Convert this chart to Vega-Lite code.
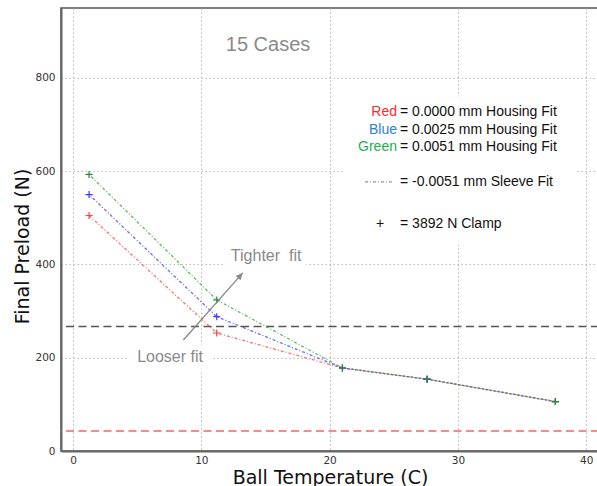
{
  "$schema": "https://vega.github.io/schema/vega-lite/v6.json",
  "width": 538,
  "height": 443,
  "autosize": {"type": "none"},
  "padding": {"left": 61, "top": 8, "right": 0, "bottom": 35},
  "background": "white",
  "config": {
    "view": {"stroke": "#555", "strokeWidth": 1.5},
    "axis": {
      "labelFont": "DejaVu Sans", "labelFontSize": 10.5, "labelColor": "#333",
      "titleFont": "DejaVu Sans", "titleFontSize": 19, "titleFontWeight": "normal", "titleColor": "#111",
      "grid": true, "gridColor": "#bbb", "gridDash": [1.5, 2.5], "gridWidth": 1,
      "domainColor": "#666", "domainWidth": 2, "ticks": false
    }
  },
  "datasets": {
    "curves": [
      {"temp": 1.25, "preload": 505, "fit": "0.0000"},
      {"temp": 11.2, "preload": 253, "fit": "0.0000"},
      {"temp": 21.0, "preload": 178, "fit": "0.0000"},
      {"temp": 27.6, "preload": 154, "fit": "0.0000"},
      {"temp": 37.6, "preload": 106, "fit": "0.0000"},
      {"temp": 1.25, "preload": 550, "fit": "0.0025"},
      {"temp": 11.2, "preload": 288, "fit": "0.0025"},
      {"temp": 21.0, "preload": 178, "fit": "0.0025"},
      {"temp": 27.6, "preload": 154, "fit": "0.0025"},
      {"temp": 37.6, "preload": 106, "fit": "0.0025"},
      {"temp": 1.25, "preload": 593, "fit": "0.0051"},
      {"temp": 11.2, "preload": 324, "fit": "0.0051"},
      {"temp": 21.0, "preload": 178, "fit": "0.0051"},
      {"temp": 27.6, "preload": 154, "fit": "0.0051"},
      {"temp": 37.6, "preload": 106, "fit": "0.0051"}
    ],
    "refs": [
      {"level": 267, "kind": "upper"},
      {"level": 43, "kind": "lower"}
    ],
    "boxes": [
      {"x1": 21.05, "x2": 39.3, "y1": 442, "y2": 759},
      {"x1": 4.29, "x2": 10.9, "y1": 174, "y2": 227},
      {"x1": 11.7, "x2": 18.2, "y1": 390, "y2": 440}
    ],
    "arrow": [
      {"x1": 8.6, "y1": 238, "x2": 13.23, "y2": 382}
    ],
    "notes": [
      {"label": "Tighter\u00a0 fit", "nx": 15.05, "ny": 418},
      {"label": "Looser fit", "nx": 7.56, "ny": 201}
    ],
    "title15": [
      {"label": "15 Cases", "nx": 15.2, "ny": 870}
    ],
    "words": [
      {"word": "Red", "fit": "0.0000", "ly": 727},
      {"word": "Blue", "fit": "0.0025", "ly": 688},
      {"word": "Green", "fit": "0.0051", "ly": 652}
    ],
    "legendText": [
      {"label": "= 0.0000 mm Housing Fit", "ly": 727},
      {"label": "= 0.0025 mm Housing Fit", "ly": 688},
      {"label": "= 0.0051 mm Housing Fit", "ly": 652},
      {"label": "= -0.0051 mm Sleeve Fit", "ly": 577},
      {"label": "= 3892 N Clamp", "ly": 487}
    ],
    "legendSample": [
      {"x1": 22.76, "x2": 24.86, "ly": 577}
    ],
    "legendPlus": [
      {"label": "+", "lx": 23.93, "ly": 487}
    ]
  },
  "layer": [
    {
      "data": {"name": "boxes"},
      "mark": {"type": "rect", "fill": "white", "stroke": null},
      "encoding": {
        "x": {"field": "x1", "type": "quantitative", "scale": {"domain": [-0.94, 41], "nice": false, "zero": false}, "axis": {"values": [0, 10, 20, 30, 40], "title": "Ball Temperature (C)", "labelPadding": 4, "titleY": 32, "titleBaseline": "alphabetic", "format": "d"}},
        "x2": {"field": "x2"},
        "y": {"field": "y1", "type": "quantitative", "scale": {"domain": [0, 950], "nice": false, "zero": false}, "axis": {"values": [0, 200, 400, 600, 800], "title": "Final Preload (N)", "labelPadding": 6, "titleX": -39, "titleY": 238, "titleAlign": "center", "titleBaseline": "middle", "format": "d"}},
        "y2": {"field": "y2"}
      }
    },
    {
      "data": {"name": "refs"},
      "mark": {"type": "rule", "strokeDash": [8, 4.5], "strokeWidth": 1.5},
      "encoding": {
        "y": {"field": "level", "type": "quantitative"},
        "color": {"field": "kind", "type": "nominal", "scale": {"domain": ["upper", "lower"], "range": ["#555555", "#ff6060"]}, "legend": null}
      }
    },
    {
      "data": {"name": "curves"},
      "transform": [{"filter": "datum.fit === '0.0000'"}],
      "mark": {"type": "line", "color": "#ff4040", "strokeWidth": 1.3, "strokeDash": [3, 2, 1, 2], "strokeDashOffset": 0, "opacity": 0.75},
      "encoding": {
        "x": {"field": "temp", "type": "quantitative"},
        "y": {"field": "preload", "type": "quantitative"}
      }
    },
    {
      "data": {"name": "curves"},
      "transform": [{"filter": "datum.fit === '0.0025'"}],
      "mark": {"type": "line", "color": "#3a3aff", "strokeWidth": 1.3, "strokeDash": [3, 2, 1, 2], "strokeDashOffset": 3, "opacity": 0.75},
      "encoding": {
        "x": {"field": "temp", "type": "quantitative"},
        "y": {"field": "preload", "type": "quantitative"}
      }
    },
    {
      "data": {"name": "curves"},
      "transform": [{"filter": "datum.fit === '0.0051'"}],
      "mark": {"type": "line", "color": "#30a030", "strokeWidth": 1.3, "strokeDash": [3, 2, 1, 2], "strokeDashOffset": 5, "opacity": 0.75},
      "encoding": {
        "x": {"field": "temp", "type": "quantitative"},
        "y": {"field": "preload", "type": "quantitative"}
      }
    },
    {
      "data": {"name": "curves"},
      "mark": {"type": "point", "shape": "M-1,0L1,0M0,-1L0,1", "filled": false, "size": 50, "strokeWidth": 1.2, "opacity": 1},
      "encoding": {
        "x": {"field": "temp", "type": "quantitative"},
        "y": {"field": "preload", "type": "quantitative"},
        "color": {"field": "fit", "type": "nominal", "scale": {"domain": ["0.0000", "0.0025", "0.0051"], "range": ["#ff4040", "#3a3aff", "#2a8a3a"]}, "legend": null}
      }
    },
    {
      "data": {"name": "arrow"},
      "mark": {"type": "rule", "color": "#888", "strokeWidth": 1.3},
      "encoding": {
        "x": {"field": "x1", "type": "quantitative"},
        "y": {"field": "y1", "type": "quantitative"},
        "x2": {"field": "x2"},
        "y2": {"field": "y2"}
      }
    },
    {
      "data": {"name": "arrow"},
      "mark": {"type": "point", "shape": "M0,0L0.45,1L-0.45,1Z", "filled": true, "size": 196, "color": "#888", "angle": 41.4, "opacity": 1},
      "encoding": {
        "x": {"field": "x2", "type": "quantitative"},
        "y": {"field": "y2", "type": "quantitative"}
      }
    },
    {
      "data": {"name": "notes"},
      "mark": {"type": "text", "font": "Liberation Sans", "fontSize": 16, "color": "#8a8a8a", "align": "center", "baseline": "middle"},
      "encoding": {
        "x": {"field": "nx", "type": "quantitative"},
        "y": {"field": "ny", "type": "quantitative"},
        "text": {"field": "label"}
      }
    },
    {
      "data": {"name": "title15"},
      "mark": {"type": "text", "font": "Liberation Sans", "fontSize": 20, "color": "#8a8a8a", "align": "center", "baseline": "middle"},
      "encoding": {
        "x": {"field": "nx", "type": "quantitative"},
        "y": {"field": "ny", "type": "quantitative"},
        "text": {"field": "label"}
      }
    },
    {
      "data": {"name": "words"},
      "mark": {"type": "text", "font": "Liberation Sans", "fontSize": 14, "align": "right", "baseline": "middle"},
      "encoding": {
        "x": {"datum": 25.25, "type": "quantitative"},
        "y": {"field": "ly", "type": "quantitative"},
        "text": {"field": "word"},
        "color": {"field": "word", "type": "nominal", "scale": {"domain": ["Red", "Blue", "Green"], "range": ["#ff2a2a", "#2f80d8", "#21b04b"]}, "legend": null}
      }
    },
    {
      "data": {"name": "legendText"},
      "mark": {"type": "text", "font": "Liberation Sans", "fontSize": 14, "align": "left", "baseline": "middle", "color": "#111"},
      "encoding": {
        "x": {"datum": 25.49, "type": "quantitative"},
        "y": {"field": "ly", "type": "quantitative"},
        "text": {"field": "label"}
      }
    },
    {
      "data": {"name": "legendSample"},
      "mark": {"type": "rule", "color": "#777", "strokeWidth": 1, "strokeDash": [3, 2, 1, 2]},
      "encoding": {
        "x": {"field": "x1", "type": "quantitative"},
        "x2": {"field": "x2"},
        "y": {"field": "ly", "type": "quantitative"}
      }
    },
    {
      "data": {"name": "legendPlus"},
      "mark": {"type": "text", "font": "Liberation Sans", "fontSize": 14, "align": "center", "baseline": "middle", "color": "#111"},
      "encoding": {
        "x": {"field": "lx", "type": "quantitative"},
        "y": {"field": "ly", "type": "quantitative"},
        "text": {"field": "label"}
      }
    }
  ],
  "resolve": {"scale": {"color": "independent"}}
}
